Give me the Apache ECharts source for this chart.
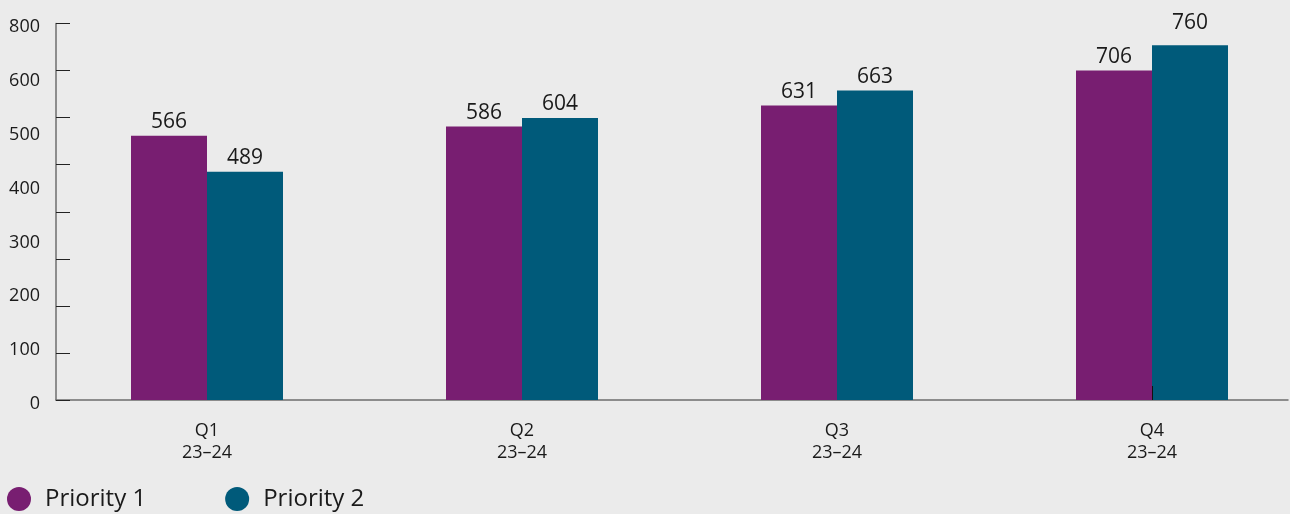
<!DOCTYPE html>
<html>
<head>
<meta charset="utf-8">
<script src="https://cdn.jsdelivr.net/npm/echarts@6/dist/echarts.min.js"></script>
<style>
html,body{margin:0;padding:0;background:#ebebeb;}
#chart{width:1290px;height:514px;}
</style>
</head>
<body>
<div id="chart"></div>
<script>
const categories = ['Q1\n23–24', 'Q2\n23–24', 'Q3\n23–24', 'Q4\n23–24'];
const priority1 = [566, 586, 631, 706];
const priority2 = [489, 604, 663, 760];
const yTickLabels = ['0', '100', '200', '300', '400', '500', '600', '800'];
const seriesNames = ['Priority 1', 'Priority 2'];

const FONT = '"Open Sans", "Noto Sans", sans-serif';
const labelStyle = {show: true, position: 'top', distance: 3, fontSize: 21, color: '#1a1a1a', fontFamily: FONT};
// the last Priority 2 label sits a little higher in the reference
const p2Data = priority2.map((v, i) => i === priority2.length - 1 ? {value: v, label: {offset: [0, -9]}} : v);

const chart = echarts.init(document.getElementById('chart'), null, {renderer: 'canvas'});
chart.setOption({
  backgroundColor: '#ebebeb',
  animation: false,
  textStyle: {fontFamily: FONT},
  legend: {
    left: 2, top: 482,
    icon: 'circle', itemWidth: 24, itemHeight: 24, itemGap: 79,
    textStyle: {fontSize: 24, color: '#1a1a1a', fontFamily: FONT, padding: [0, 0, 0, 9]},
    data: seriesNames
  },
  grid: [
    {left: 49.5, width: 1260, top: 26.5, bottom: 114, outerBoundsMode: 'none', containLabel: false},
    {left: 56, top: 27, width: 10, height: 377, outerBoundsMode: 'none'},
    {left: 56, right: 2, top: 23.5, bottom: 114, outerBoundsMode: 'none'}
  ],
  xAxis: [
    {
      type: 'category', gridIndex: 0, data: categories, z: 5,
      axisLine: {show: false},
      axisTick: {show: true, inside: true, length: 14, alignWithLabel: true,
        interval: (idx) => idx === categories.length - 1,
        lineStyle: {color: '#111', width: 1}},
      axisLabel: {fontSize: 18, color: '#1a1a1a', lineHeight: 22, margin: 20, fontFamily: FONT, interval: 0}
    },
    {type: 'value', gridIndex: 1, show: false},
    {
      type: 'value', gridIndex: 2, min: 0, max: 1,
      axisLine: {show: true, lineStyle: {color: '#6e6e6e', width: 1.5}},
      axisTick: {show: false}, axisLabel: {show: false}, splitLine: {show: false}
    }
  ],
  yAxis: [
    {
      type: 'value', gridIndex: 0, min: 0, max: 800,
      show: false
    },
    {
      type: 'value', gridIndex: 1, min: 0, max: 7, interval: 1,
      axisLine: {show: false}, axisTick: {show: false}, splitLine: {show: false},
      axisLabel: {
        fontSize: 18, color: '#1a1a1a', margin: 16, fontFamily: FONT,
        formatter: v => yTickLabels[v] !== undefined ? yTickLabels[v] : ''
      }
    },
    {
      type: 'value', gridIndex: 2, min: 0, max: 800, interval: 100,
      axisLine: {show: true, lineStyle: {color: '#6e6e6e', width: 1.5}},
      axisTick: {show: true, inside: true, length: 14, lineStyle: {color: '#222', width: 1}},
      axisLabel: {show: false},
      splitLine: {show: false}
    }
  ],
  series: [
    {
      name: seriesNames[0], type: 'bar', xAxisIndex: 0, yAxisIndex: 0,
      data: priority1, barWidth: 76, barGap: '0%',
      itemStyle: {color: '#781e71'},
      label: labelStyle
    },
    {
      name: seriesNames[1], type: 'bar', xAxisIndex: 0, yAxisIndex: 0,
      data: p2Data, barWidth: 76, barGap: '0%',
      itemStyle: {color: '#005a7a'},
      label: labelStyle
    }
  ]
});
</script>
</body>
</html>
